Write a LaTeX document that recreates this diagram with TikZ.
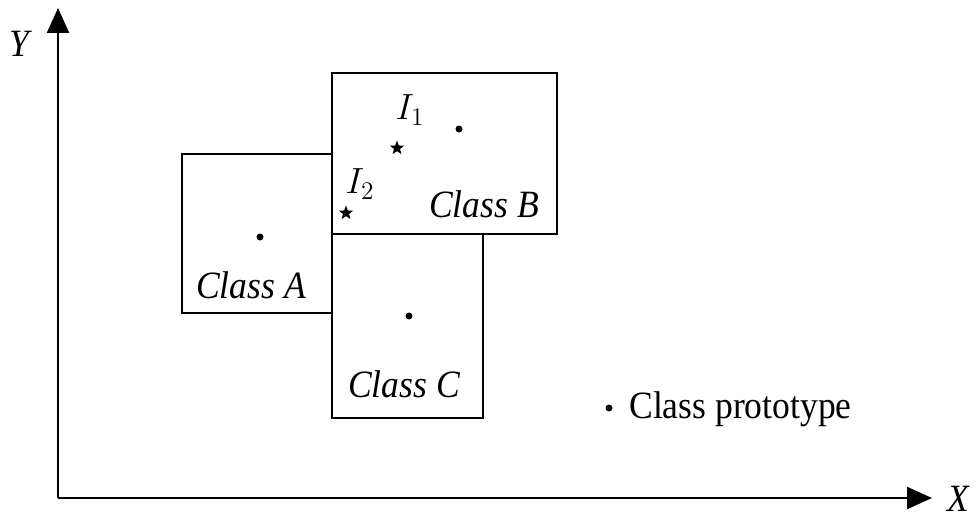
\documentclass[tikz,border=0pt]{standalone}
\usepackage{fontspec}
\setmainfont[FakeStretch=0.92]{Liberation Serif}
\usetikzlibrary{arrows.meta,shapes.geometric}
\tikzset{
  proto/.style={circle,fill,inner sep=0pt,minimum size=0.14cm},
  inst/.style={star,star points=5,star point ratio=2.4,fill,inner sep=0pt,minimum size=0.3cm},
  lbl/.style={font=\fontsize{22}{26}\selectfont\itshape,inner sep=0pt},
  box/.style={line width=1.5pt}
}
\begin{document}
\begin{tikzpicture}[x=0.02cm,y=-0.02cm]
\useasboundingbox (0,0) rectangle (976,520);

% axes
\coordinate (o) at (58,498);
\coordinate (ytip) at (58,8);
\coordinate (xtip) at (932,498);
\draw[line width=1.3pt,-{Triangle[length=0.5cm,width=0.44cm]}] (o) -- (ytip);
\draw[line width=1.3pt,-{Triangle[length=0.5cm,width=0.44cm]}] (o) -- (xtip);
\node[lbl] (ylab) at (19,44) {Y};
\node[lbl] (xlab) at (958,499) {X};

% class regions
\draw[box] (182,154) rectangle (332,313);
\draw[box] (332,73) rectangle (557,234);
\draw[box] (332,234) rectangle (483,418);

% prototypes
\node[proto] (pa) at (260,237) {};
\node[proto] (pb) at (459,129) {};
\node[proto] (pc) at (409,316) {};

\node[lbl] (ca) at (251,285) {Class A};
\node[lbl] (cb) at (484,204) {Class B};
\node[lbl] (cc) at (404,384) {Class C};

% instances
\node[inst] (i1) at (397,148) {};
\node[inst] (i2) at (346,213) {};
\node[lbl] (i1lab) at (410,110) {$I_1$};
\node[lbl] (i2lab) at (360,184) {$I_2$};

% legend
\node[proto] (lp) at (609,408) {};
\node[lbl,font=\fontsize{22}{26}\selectfont,anchor=west] (ltxt) at (629,409) {Class prototype};
\end{tikzpicture}
\end{document}
